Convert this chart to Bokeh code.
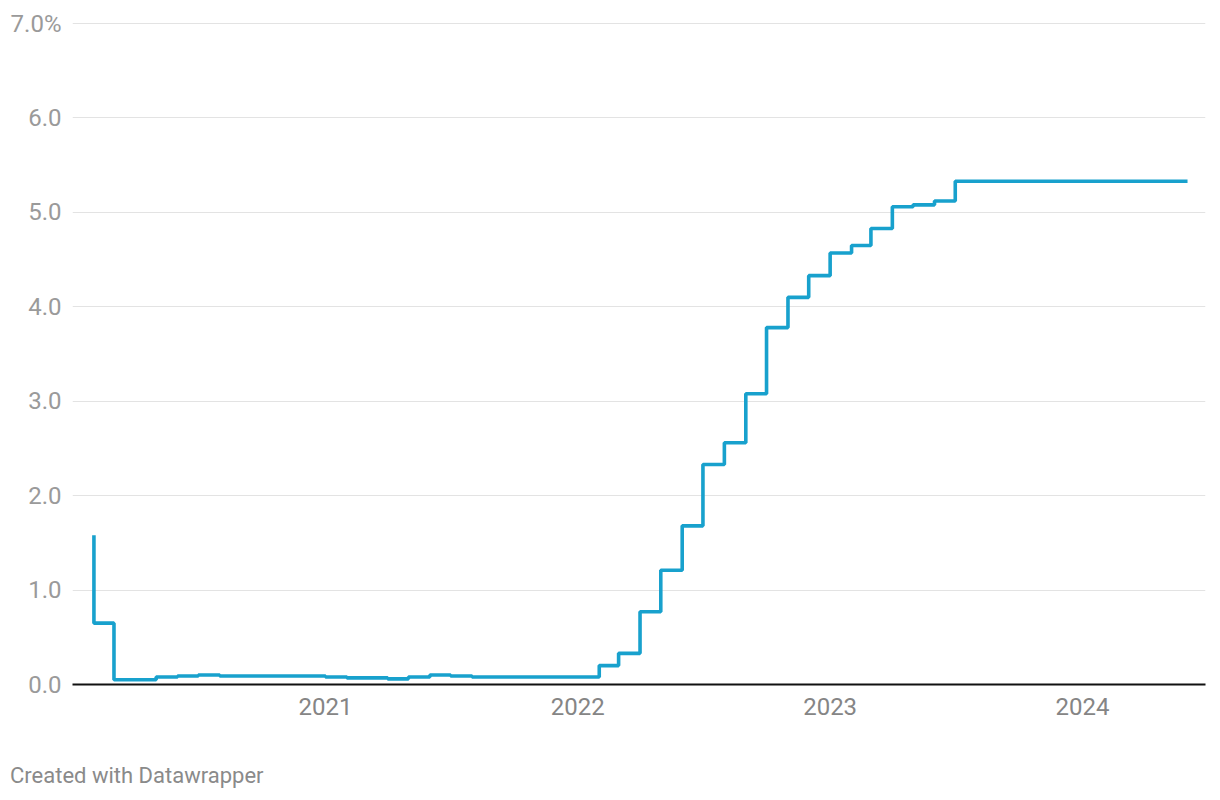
import pandas as pd
from bokeh.plotting import figure
from bokeh.layouts import column
from bokeh.models import FixedTicker, DatetimeTickFormatter, Range1d, Div
from bokeh.embed import file_html
from bokeh.resources import INLINE

# Effective rate, monthly (month start), Feb 2020 – Jun 2024
months = [
    "2020-02", "2020-03", "2020-04", "2020-05", "2020-06", "2020-07", "2020-08",
    "2020-09", "2020-10", "2020-11", "2020-12",
    "2021-01", "2021-02", "2021-03", "2021-04", "2021-05", "2021-06", "2021-07",
    "2021-08", "2021-09", "2021-10", "2021-11", "2021-12",
    "2022-01", "2022-02", "2022-03", "2022-04", "2022-05", "2022-06", "2022-07",
    "2022-08", "2022-09", "2022-10", "2022-11", "2022-12",
    "2023-01", "2023-02", "2023-03", "2023-04", "2023-05", "2023-06", "2023-07",
    "2023-08", "2023-09", "2023-10", "2023-11", "2023-12",
    "2024-01", "2024-02", "2024-03", "2024-04", "2024-05", "2024-06",
]
rates = [
    1.58, 0.65, 0.05, 0.05, 0.08, 0.09, 0.10,
    0.09, 0.09, 0.09, 0.09,
    0.09, 0.08, 0.07, 0.07, 0.06, 0.08, 0.10,
    0.09, 0.08, 0.08, 0.08, 0.08,
    0.08, 0.08, 0.20, 0.33, 0.77, 1.21, 1.68,
    2.33, 2.56, 3.08, 3.78, 4.10,
    4.33, 4.57, 4.65, 4.83, 5.06, 5.08, 5.12,
    5.33, 5.33, 5.33, 5.33, 5.33,
    5.33, 5.33, 5.33, 5.33, 5.33, 5.33,
]
year_ticks = ["2021-01-01", "2022-01-01", "2023-01-01", "2024-01-01"]
y_ticks = [0, 1, 2, 3, 4, 5, 6, 7]
y_labels = ["0.0", "1.0", "2.0", "3.0", "4.0", "5.0", "6.0", "7.0%"]
footer_text = "Created with Datawrapper"

dates = pd.to_datetime(months)

def ms(s):
    return pd.Timestamp(s).value / 1e6

FONT = "Roboto"

p = figure(
    width=1220, height=750, x_axis_type="datetime",
    output_backend="svg", toolbar_location=None,
    min_border_left=72, min_border_right=15, min_border_top=22, min_border_bottom=66,
    x_range=Range1d(ms("2020-01-01"), ms("2024-06-27")),
    y_range=Range1d(0, 7.011),
)
p.outline_line_color = None
p.background_fill_color = "white"
p.border_fill_color = "white"

p.step(dates, rates, mode="before", line_color="#18a1cd", line_width=3.6)

# y axis
p.yaxis.ticker = FixedTicker(ticks=y_ticks)
p.yaxis.major_label_overrides = {t: l for t, l in zip(y_ticks, y_labels)}
p.yaxis.axis_line_color = None
p.yaxis.major_tick_line_color = None
p.yaxis.minor_tick_line_color = None
p.yaxis.major_tick_in = 0
p.yaxis.major_tick_out = 0
p.yaxis.major_label_standoff = 11
p.yaxis.major_label_text_font = FONT
p.yaxis.major_label_text_font_size = "24px"
p.yaxis.major_label_text_color = "#9a9a9a"
p.ygrid.ticker = FixedTicker(ticks=y_ticks[1:])
p.ygrid.grid_line_color = "#e3e3e3"
p.ygrid.grid_line_width = 1

# x axis
p.xaxis.ticker = FixedTicker(ticks=[ms(t) for t in year_ticks])
p.xaxis.formatter = DatetimeTickFormatter(years="%Y", months="%Y", days="%Y")
p.xaxis.axis_line_color = "#111111"
p.xaxis.axis_line_width = 2
p.xaxis.major_tick_line_color = None
p.xaxis.minor_tick_line_color = None
p.xaxis.major_tick_in = 0
p.xaxis.major_tick_out = 0
p.xaxis.major_label_standoff = 13
p.xaxis.major_label_text_font = FONT
p.xaxis.major_label_text_font_size = "24px"
p.xaxis.major_label_text_color = "#858585"
p.xgrid.grid_line_color = None

footer = Div(
    text=footer_text, width=1220, height=50, margin=0,
    styles={
        "font-family": "Roboto", "font-size": "22px", "color": "#8a8a8a",
        "padding-left": "10px", "padding-top": "13px", "line-height": "26px",
        "background": "white",
    },
)

layout = column(p, footer, spacing=0)
open("out.html", "w").write(file_html(layout, INLINE))
